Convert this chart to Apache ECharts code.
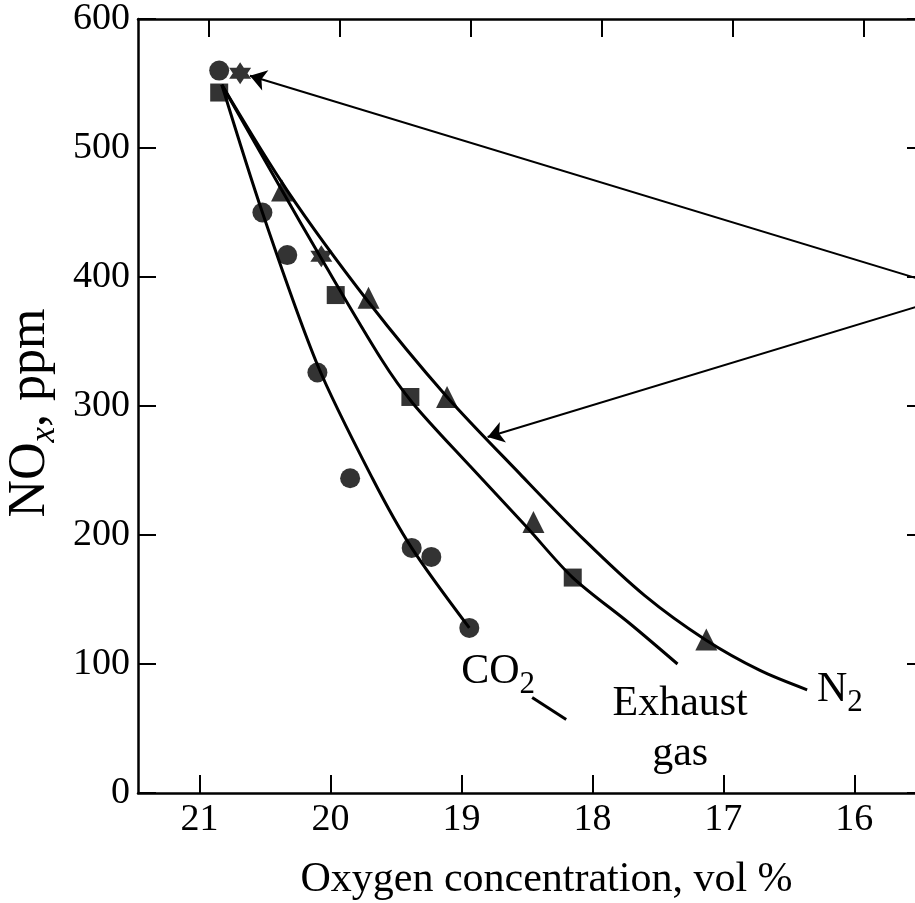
<!DOCTYPE html>
<html><head><meta charset="utf-8">
<script src="https://cdn.jsdelivr.net/npm/echarts@6/dist/echarts.min.js"></script>
<style>html,body{margin:0;padding:0;background:#fff}#c{width:915px;height:903px}</style>
</head><body><div id="c"></div>
<script>
// ---- axis ticks ----
const xTicks = [21, 20, 19, 18, 17, 16];
const yTicks = [0, 100, 200, 300, 400, 500, 600];

// ---- measured points (oxygen vol %, NOx ppm) ----
const co2PtsX = [20.85, 20.52, 20.33, 20.10, 19.85, 19.38, 19.23, 18.94];
const co2PtsY = [560, 450, 417, 326, 244, 190, 183, 128];
const exhPtsX = [20.85, 19.96, 19.39, 18.15];
const exhPtsY = [543, 386, 307, 167];
const n2PtsX = [20.69, 20.37, 20.07, 19.71, 19.11, 18.45, 17.13];
const n2PtsY = [558, 467, 416, 384, 307, 210, 119];

// ---- fitted curves ----
const co2FitX = [20.83, 20.52, 20.10, 19.68, 19.38, 18.94];
const co2FitY = [549, 450, 332, 244, 190, 128];
const exhFitX = [20.83, 20.37, 20.08, 19.61, 19.37, 18.94, 18.50, 18.15, 17.71, 17.35];
const exhFitY = [549, 467, 416, 336, 302, 254, 206, 167, 131, 100];
const n2FitX = [20.83, 20.33, 19.72, 19.11, 18.55, 18.06, 17.60, 17.14, 16.72, 16.36];
const n2FitY = [549, 467, 382, 307, 247, 196, 153, 119, 95, 80];
const co2TailX = [18.46, 18.20];
const co2TailY = [74, 57];

// ---- annotation arrows ----
const arrowFrom = [15.165, 388];
const arrowTo1 = [20.615, 556];
const arrowTo2 = [18.80, 276];

const zip = (a, b) => a.map((v, i) => [v, b[i]]);
const FONT = 'Liberation Serif';
const INK = '#000';
const hexagram = 'path://M0,-10 L8.66,5 L-8.66,5 Z M0,10 L-8.66,-5 L8.66,-5 Z';

const chart = echarts.init(document.getElementById('c'), null, { renderer: 'canvas' });
const xCommon = {
  type: 'value', min: 15.46, max: 21.47, inverse: true,
  axisLine: { show: true, onZero: false, lineStyle: { color: INK, width: 2.5 } },
  axisTick: { show: true, inside: true, length: 18, customValues: xTicks, lineStyle: { color: INK, width: 2 } },
  splitLine: { show: false }
};
const yCommon = {
  type: 'value', min: 0, max: 600, interval: 100,
  axisLine: { show: true, onZero: false, lineStyle: { color: INK, width: 2.5 } },
  axisTick: { show: true, inside: true, length: 18, customValues: yTicks, lineStyle: { color: INK, width: 2 } },
  splitLine: { show: false }
};
const lineStyleFit = { color: INK, width: 3 };
const fitCommon = { type: 'line', smooth: 0.3, showSymbol: false, symbol: 'none', lineStyle: lineStyleFit, z: 2 };
const textMark = (formatter, coord, extra) => ({
  symbol: 'rect', symbolSize: 1, itemStyle: { color: 'rgba(0,0,0,0)' },
  label: Object.assign({ show: true, position: 'inside', formatter: formatter, color: INK, fontFamily: FONT, fontSize: 42 }, extra || {}),
  data: [{ coord: coord }]
});
const subRich = { m: { fontFamily: FONT, fontSize: 42, color: INK }, s: { fontFamily: FONT, fontSize: 31, color: INK, padding: [27, 0, 0, 0] } };

chart.setOption({
  backgroundColor: '#fff',
  animation: false,
  grid: { left: 138, top: 19, width: 787, height: 774, outerBoundsMode: 'none', containLabel: false },
  xAxis: [
    Object.assign({}, xCommon, {
      position: 'bottom',
      axisLabel: { show: true, customValues: xTicks, fontFamily: FONT, fontSize: 38, color: INK, margin: 8 },
      name: 'Oxygen concentration, vol %',
      nameLocation: 'middle', nameGap: 66,
      nameTextStyle: { fontFamily: FONT, fontSize: 42, color: INK, padding: [0, 0, 0, 30] }
    }),
    Object.assign({}, xCommon, { position: 'top', min: 15.53, max: 21.54, axisLabel: { show: false } })
  ],
  yAxis: [
    Object.assign({}, yCommon, {
      position: 'left',
      axisLabel: { show: true, customValues: yTicks, fontFamily: FONT, fontSize: 38, color: INK, margin: 8 },
      name: 'NO{s|x}, ppm',
      nameLocation: 'middle', nameGap: 76, nameRotate: 90,
      nameTextStyle: {
        fontFamily: FONT, fontSize: 52, color: INK, padding: [0, 14, 0, 0],
        rich: { s: { fontFamily: FONT, fontSize: 35, fontStyle: 'italic', color: INK, padding: [29, 0, 0, 0] } }
      }
    }),
    Object.assign({}, yCommon, { position: 'right', axisLabel: { show: false } })
  ],
  series: [
    Object.assign({}, fitCommon, { name: 'CO2 fit', data: zip(co2FitX, co2FitY),
      markPoint: textMark('{m|CO}{s|2}', [18.72, 94], { rich: subRich }) }),
    Object.assign({}, fitCommon, { name: 'Exhaust fit', data: zip(exhFitX, exhFitY),
      markPoint: textMark('Exhaust\ngas', [17.33, 50], { align: 'center', lineHeight: 50 }) }),
    Object.assign({}, fitCommon, { name: 'N2 fit', data: zip(n2FitX, n2FitY),
      markPoint: textMark('{m|N}{s|2}', [16.11, 80], { rich: subRich }) }),
    { type: 'line', name: 'CO2 tail', data: zip(co2TailX, co2TailY), showSymbol: false, symbol: 'none', lineStyle: { color: INK, width: 3 }, z: 2 },
    { type: 'scatter', name: 'CO2', data: zip(co2PtsX, co2PtsY), symbol: 'circle', symbolSize: 20, itemStyle: { color: INK }, z: 4 },
    { type: 'scatter', name: 'Exhaust gas', data: zip(exhPtsX, exhPtsY), symbol: 'rect', symbolSize: 18, itemStyle: { color: INK }, z: 4 },
    { type: 'scatter', name: 'N2', data: zip(n2PtsX, n2PtsY),
      symbol: (v, p) => (p.dataIndex === 0 || p.dataIndex === 2) ? hexagram : 'triangle',
      symbolSize: 22, itemStyle: { color: INK }, z: 4 },
    { type: 'lines', name: 'arrows', coordinateSystem: 'cartesian2d', clip: false, z: 3, silent: true,
      symbol: ['none', 'arrow'], symbolSize: 16,
      lineStyle: { color: INK, width: 2, opacity: 1, curveness: 0 },
      data: [ { coords: [arrowFrom, arrowTo1] }, { coords: [arrowFrom, arrowTo2] } ] }
  ]
});
</script></body></html>
